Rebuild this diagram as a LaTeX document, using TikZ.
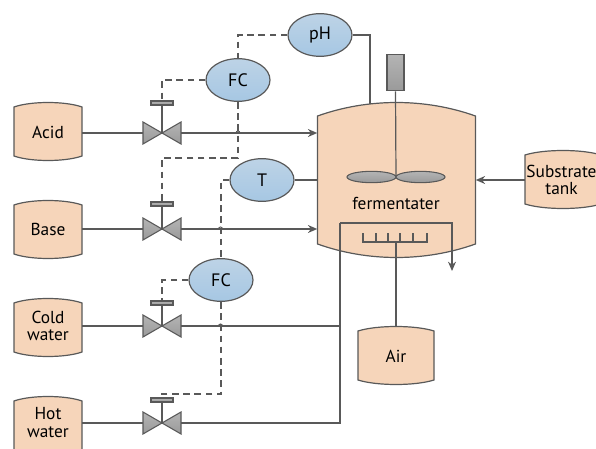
\documentclass[tikz,border=0pt]{standalone}
\usepackage{fontspec}
\setmainfont{PT Sans}
\usetikzlibrary{arrows.meta,positioning,calc,shapes.geometric}
\definecolor{pipegray}{HTML}{595959}
\definecolor{tankfill}{HTML}{F6D5BA}
\definecolor{bluetop}{HTML}{BDD3E6}
\definecolor{bluebot}{HTML}{A6C7E3}
\definecolor{greytop}{HTML}{B4B4B4}
\definecolor{greybot}{HTML}{9A9A9A}
\tikzset{
  lbl/.style={font=\fontsize{13}{13}\selectfont,text=black,align=center,inner sep=0pt},
  tankbody/.style={draw=pipegray,fill=tankfill,line width=0.9pt},
  tank/.style={lbl,minimum width=51pt,minimum height=39pt},
  sensor/.style={ellipse,draw=pipegray,line width=0.9pt,top color=bluetop,bottom color=bluebot,minimum width=48pt,minimum height=32pt,inner sep=0pt,font=\fontsize{13.5}{14}\selectfont},
  greypart/.style={draw=pipegray,line width=0.8pt,top color=greytop,bottom color=greybot},
  valvebody/.style={minimum width=28.5pt,minimum height=16.5pt,inner sep=0pt},
  actuator/.style={greypart,minimum width=16.5pt,minimum height=3pt,inner sep=0pt},
  blade/.style={greypart,ellipse,minimum width=36.75pt,minimum height=8.5pt,inner sep=0pt},
  pipe/.style={draw=pipegray,line width=0.9pt},
  arr/.style={pipe,-{Stealth[length=7pt,width=6pt]}},
  signal/.style={pipe,dash pattern=on 5pt off 3.4pt}
}
\begin{document}
\begin{tikzpicture}[x=0.75pt,y=-0.75pt]
\useasboundingbox (0,0) rectangle (596,449);
% tanks
\foreach \x/\y/\w/\nm in {48/132/34/acid,48/230/34/base,48/328/34/cold,48/426/34/hot,396/356/38/air,563/180/38/substrate}{
\draw[tankbody] (\x-\w,\y-25) .. controls (\x-\w/2,\y-31) and (\x+\w/2,\y-31) .. (\x+\w,\y-25) -- (\x+\w,\y+24) .. controls (\x+\w/2,\y+30) and (\x-\w/2,\y+30) .. (\x-\w,\y+24) -- cycle;
\node[tank,minimum width=1.5*\w pt] (\nm) at (\x,\y) {};
}
\node[lbl] (acidlbl) at (48,132) {Acid};
\node[lbl] (baselbl) at (48,229) {Base};
\node[lbl] (coldlbl) at (48,326) {Cold\\water};
\node[lbl] (hotlbl) at (48,422.5) {Hot\\water};
\node[lbl] (airlbl) at (396,356) {Air};
\node[lbl] (substratelbl) at (561.5,180) {Substrate\\tank};
% fermenter
\draw[tankbody] (317.5,116) .. controls (368,98) and (425,98) .. (475.5,116) -- (475.5,244) .. controls (425,262) and (368,262) .. (317.5,244) -- cycle;
\node[minimum width=118.5pt,minimum height=96pt,inner sep=0pt] (ferm) at (396.5,180) {};
\node[lbl] (fermlbl) at (396,203) {fermentater};
\node[greypart,minimum width=12.75pt,minimum height=27.5pt,inner sep=0pt] (motor) at (395.5,72.5) {};
\coordinate (hub) at (396,177);
\draw[pipe] (motor.south) -- (hub);
\node[blade] (bladeleft) at (371.5,177) {};
\node[blade] (bladeright) at (420.5,177) {};
% sparger
\coordinate (sparge) at (396,242);
\draw[pipe] (363,233) -- (363,242) -- (427,242) -- (427,233);
\foreach \x in {376,388,400,413}{
\draw[pipe] (\x,233) -- (\x,242);
}
\draw[pipe] (air.north |- 0,327) -- (sparge);
% valves
\foreach \y/\dy/\nm in {133/30/acid,229/25/base,326/23/cold,423/23/hot}{
\node[valvebody] (v\nm) at (162,\y) {};
\draw[greypart] (162,\y) -- (143,\y-11) -- (143,\y+11) -- cycle;
\draw[greypart] (162,\y) -- (181,\y-11) -- (181,\y+11) -- cycle;
\node[actuator] (a\nm) at (162,\y-\dy) {};
\draw[pipe] (a\nm) -- (v\nm.center);
}
\draw[pipe] (acid.east |- vacid) -- (vacid.west);
\draw[pipe] (base.east |- vbase) -- (vbase.west);
\draw[pipe] (cold.east |- vcold) -- (vcold.west);
\draw[pipe] (hot.east |- vhot) -- (vhot.west);
\draw[arr] (vacid.east) -- (vacid.east -| ferm.west);
\draw[arr] (vbase.east) -- (vbase.east -| ferm.west);
% heating jacket loop
\coordinate (jacket) at (340,223);
\coordinate (outlet) at (452,271);
\draw[pipe] (vhot.east) -- (vhot.east -| jacket) -- (jacket);
\draw[pipe] (vcold.east) -- (vcold.east -| jacket);
\draw[arr] (jacket) -- (jacket -| outlet) -- (outlet);
\draw[arr] (substrate.west) -- (substrate.west -| ferm.east);
% sensors
\node[sensor] (ph) at (320,35) {pH};
\node[sensor] (fcone) at (238,80) {FC};
\node[sensor] (temp) at (262,180) {T};
\node[sensor] (fctwo) at (221,280) {FC};
\coordinate (phtop) at (370,104);
\draw[pipe] (ph.east) -| (phtop);
\draw[pipe] (temp.east) -- (temp.east -| ferm.west);
\draw[signal] (ph.west) -| (fcone.north);
\draw[signal] (fcone.west) -| (aacid.north);
\draw[signal] (fcone.south) -- (238,158) -- (162,158) -- (abase.north);
\draw[signal] (temp.west) -| (fctwo.north);
\draw[signal] (fctwo.west) -| (acold.north);
\draw[signal] (fctwo.south) -- (221,394) -- (162,394) -- (ahot.north);
% jumps
\foreach \x/\y in {238/133,220.5/229,220.5/326}{
\draw[pipe,line width=0.7pt] (\x-2,\y) arc[start angle=180,end angle=360,radius=2];
}
\end{tikzpicture}
\end{document}
